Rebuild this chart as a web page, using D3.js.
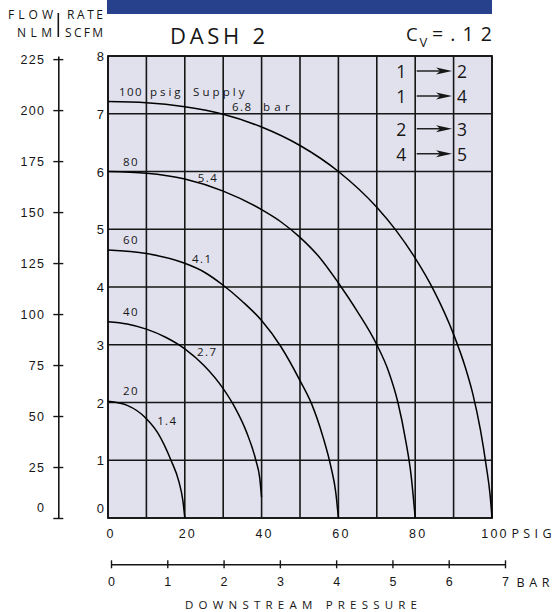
<!DOCTYPE html>
<html>
<head>
<meta charset="utf-8">
<script src="https://cdn.jsdelivr.net/npm/d3@7"></script>
<style>
  html, body { margin: 0; padding: 0; background: #fff; }
  svg { display: block; font-family: "Open Sans", "DejaVu Sans", sans-serif; }
</style>
</head>
<body>
<script>
// ---------------- DATA ----------------
const psigTicks = [0, 20, 40, 60, 80, 100];
const barTicks = [0, 1, 2, 3, 4, 5, 6, 7];
const nlmTicks = [0, 25, 50, 75, 100, 125, 150, 175, 200, 225];
const scfmTicks = [0, 1, 2, 3, 4, 5, 6, 7, 8];
const NLM_PER_SCFM = 28.317;

const supplyPsig = [20, 40, 60, 80, 100];
const supplyBar = ["1.4", "2.7", "4.1", "5.4", "6.8"];

// flow curves: [downstream psig, flow SCFM]
const curve20 = [[0, 2.02], [5, 1.95], [10, 1.72], [13, 1.47], [16.4, 1.0], [18.5, 0.62], [19.5, 0.3], [20, 0]];
const curve40 = [[0, 3.40], [5, 3.36], [10, 3.27], [15, 3.13], [20, 2.93], [25, 2.64], [30, 2.24], [33, 1.92], [36, 1.5], [38.5, 1.0], [39.5, 0.7], [40, 0.36]];
const curve60 = [[0, 4.64], [10, 4.58], [20, 4.41], [25, 4.26], [30, 4.03], [35, 3.75], [40, 3.42], [45, 2.97], [50, 2.38], [53, 1.98], [56, 1.4], [58, 0.9], [59.3, 0.45], [60, 0]];
const curve80 = [[0, 6.0], [10, 5.97], [20, 5.87], [30, 5.66], [40, 5.34], [45, 5.13], [50, 4.86], [55, 4.52], [60, 4.07], [65, 3.57], [70, 3.0], [73, 2.55], [75.5, 2.0], [77.5, 1.35], [79, 0.7], [80, 0]];
const curve100 = [[0, 7.21], [10, 7.19], [20, 7.12], [30, 6.99], [40, 6.77], [50, 6.45], [60, 6.0], [70, 5.38], [75, 4.98], [80, 4.50], [85, 3.92], [90, 3.18], [93, 2.62], [95, 2.15], [97, 1.52], [98.5, 0.9], [99.5, 0.4], [100, 0]];
const curves = [curve20, curve40, curve60, curve80, curve100];

// bar-label anchors (psig, scfm)
const barLabelAt = [[12.8, 1.61], [23.2, 2.81], [21.9, 4.42], [23.4, 5.81], [32.3, 7.04]];

const legendFrom = ["1", "1", "2", "4"];
const legendTo = ["2", "4", "3", "5"];

// ---------------- CHART ----------------
const W = 554, H = 612;
const svg = d3.select("body").append("svg").attr("width", W).attr("height", H);

const x = d3.scaleLinear().domain([0, 100]).range([108, 492]);
const y = d3.scaleLinear().domain([0, 8]).range([518, 56]);
const yNLM = d3.scaleLinear().domain([0, 8 * NLM_PER_SCFM]).range([518, 56]);
const xBar = d3.scaleLinear().domain([0, 7]).range([111, 505]);

const ink = "#161616";

// banner
svg.append("rect").attr("x", 107).attr("y", 0).attr("width", 385).attr("height", 14).attr("fill", "#27418c");

// title texts
svg.append("text").attr("x", 170).attr("y", 44.3).attr("font-size", 22)
  .attr("textLength", 95).attr("lengthAdjust", "spacing").attr("fill", ink).text("DASH 2");
svg.append("text").attr("x", 406).attr("y", 40.5).attr("font-size", 18.5).attr("fill", ink).text("C");
svg.append("text").attr("x", 419.5).attr("y", 47).attr("font-size", 13).attr("fill", ink).text("V");
svg.append("text").attr("x", 432).attr("y", 40.5).attr("font-size", 19.5).attr("fill", ink)
  .attr("textLength", 60).attr("lengthAdjust", "spacing").text("=.12");

// left header
const hdr = [["FLOW", 8, 19.3, 45], ["RATE", 67, 19.3, 36], ["NLM", 17, 36.7, 35], ["SCFM", 65, 36.7, 38]];
hdr.forEach(h => {
  svg.append("text").attr("x", h[1]).attr("y", h[2]).attr("font-size", 12)
    .attr("textLength", h[3]).attr("lengthAdjust", "spacing").attr("fill", ink).text(h[0]);
});
svg.append("line").attr("x1", 58.3).attr("x2", 58.3).attr("y1", 13).attr("y2", 37)
  .attr("stroke", ink).attr("stroke-width", 1.6);

// plot background
svg.append("rect").attr("x", x(0)).attr("y", y(8)).attr("width", x(100) - x(0)).attr("height", y(0) - y(8))
  .attr("fill", "#e1e1ee");

// grid
const grid = svg.append("g").attr("stroke", ink).attr("stroke-width", 1.6);
grid.selectAll("line.v").data(d3.range(0, 101, 10)).join("line").attr("class", "v")
  .attr("x1", d => x(d)).attr("x2", d => x(d)).attr("y1", y(8)).attr("y2", y(0));
grid.selectAll("line.h").data(scfmTicks).join("line").attr("class", "h")
  .attr("x1", x(0)).attr("x2", x(100)).attr("y1", d => y(d)).attr("y2", d => y(d));
svg.append("rect").attr("x", x(0)).attr("y", y(8)).attr("width", x(100) - x(0)).attr("height", y(0) - y(8))
  .attr("fill", "none").attr("stroke", ink).attr("stroke-width", 1.8);

// curves
const line = d3.line().x(d => x(d[0])).y(d => y(d[1])).curve(d3.curveMonotoneX);
svg.append("g").selectAll("path").data(curves).join("path")
  .attr("d", line).attr("fill", "none").attr("stroke", "#000").attr("stroke-width", 1.5);

// curve labels
const lab = svg.append("g").attr("font-size", 11.5).attr("fill", ink).attr("letter-spacing", 1.4);
supplyPsig.forEach((p, i) => {
  const start = curves[i][0];
  lab.append("text").attr("x", x(6)).attr("y", y(start[1]) - 6).attr("text-anchor", "middle").text(p);
});
lab.append("text").attr("x", 150).attr("y", y(curve100[0][1]) - 6)
  .attr("textLength", 32).attr("lengthAdjust", "spacing").text("psig");
lab.append("text").attr("x", 193).attr("y", y(curve100[0][1]) - 6)
  .attr("textLength", 53).attr("lengthAdjust", "spacing").text("Supply");
supplyBar.forEach((b, i) => {
  lab.append("text").attr("x", x(barLabelAt[i][0])).attr("y", y(barLabelAt[i][1])).text(b);
});
lab.append("text").attr("x", 263).attr("y", y(barLabelAt[4][1]))
  .attr("textLength", 28).attr("lengthAdjust", "spacing").text("bar");

// legend (port flow paths)
const leg = svg.append("g").attr("font-size", 17.5).attr("fill", ink);
legendFrom.forEach((f, i) => {
  const cell = Math.floor(i / 2), sub = i % 2;
  const by = y(8 - cell) + 22 + sub * 25;
  leg.append("text").attr("x", x(80) - 9).attr("y", by).attr("text-anchor", "end").text(f);
  leg.append("text").attr("x", x(90) + 3.5).attr("y", by).text(legendTo[i]);
  const ay = by - 7, x1 = x(80) + 1.5, x2 = x(90) - 1.5;
  leg.append("line").attr("x1", x1).attr("x2", x2 - 8).attr("y1", ay).attr("y2", ay)
    .attr("stroke", ink).attr("stroke-width", 1.4);
  leg.append("path").attr("d", `M${x2},${ay} L${x2 - 16},${ay - 3.6} L${x2 - 12},${ay} L${x2 - 16},${ay + 3.6} Z`)
    .attr("fill", ink);
});

// SCFM tick labels
const scfmAxis = svg.append("g").attr("transform", `translate(104,0)`)
  .call(d3.axisLeft(y).tickValues(scfmTicks).tickSize(0).tickPadding(0));
scfmAxis.select(".domain").remove();
scfmAxis.selectAll("text").attr("font-size", 13).attr("fill", ink).attr("font-family", "inherit")
  .attr("dy", d => d === 0 ? "-0.45em" : "0.35em");

// NLM axis
const nlmAxis = svg.append("g").attr("transform", `translate(58.3,0)`)
  .call(d3.axisLeft(yNLM).tickValues(nlmTicks).tickSizeOuter(0).tickSizeInner(5).tickPadding(8));
nlmAxis.select(".domain").attr("stroke", ink).attr("stroke-width", 1.6);
nlmAxis.selectAll(".tick line").attr("x1", -5).attr("x2", 5).attr("stroke", ink).attr("stroke-width", 1.4);
nlmAxis.selectAll("text").attr("font-size", 12.5).attr("letter-spacing", 1.3).attr("fill", ink)
  .attr("font-family", "inherit").attr("dy", d => d === 0 ? "-0.5em" : "0.35em");

// PSIG axis labels
const psigAxis = svg.append("g").attr("transform", `translate(2.5,${y(0)})`)
  .call(d3.axisBottom(x).tickValues(psigTicks).tickSize(0).tickPadding(11));
psigAxis.select(".domain").remove();
psigAxis.selectAll("text").attr("font-size", 12.5).attr("letter-spacing", 2.2).attr("fill", ink)
  .attr("font-family", "inherit");
svg.append("text").attr("x", 511.5).attr("y", 538.3).attr("font-size", 12.5)
  .attr("textLength", 40).attr("lengthAdjust", "spacing").attr("fill", ink).text("PSIG");

// BAR axis
const barAxis = svg.append("g").attr("transform", `translate(0,564.3)`)
  .call(d3.axisBottom(xBar).tickValues(barTicks).tickFormat(d3.format("d"))
    .tickSizeOuter(0).tickSizeInner(4).tickPadding(9));
barAxis.select(".domain").attr("stroke", ink).attr("stroke-width", 1.6);
barAxis.selectAll(".tick line").attr("y1", -4).attr("y2", 4).attr("stroke", ink).attr("stroke-width", 1.4);
barAxis.selectAll("text").attr("font-size", 12.5).attr("fill", ink).attr("font-family", "inherit");
svg.append("text").attr("x", 516.5).attr("y", 586.7).attr("font-size", 12.5)
  .attr("textLength", 33).attr("lengthAdjust", "spacing").attr("fill", ink).text("BAR");

svg.append("text").attr("x", 185).attr("y", 608.5).attr("font-size", 11.5)
  .attr("textLength", 232).attr("lengthAdjust", "spacing").attr("fill", ink).text("DOWNSTREAM  PRESSURE");
</script>
</body>
</html>
